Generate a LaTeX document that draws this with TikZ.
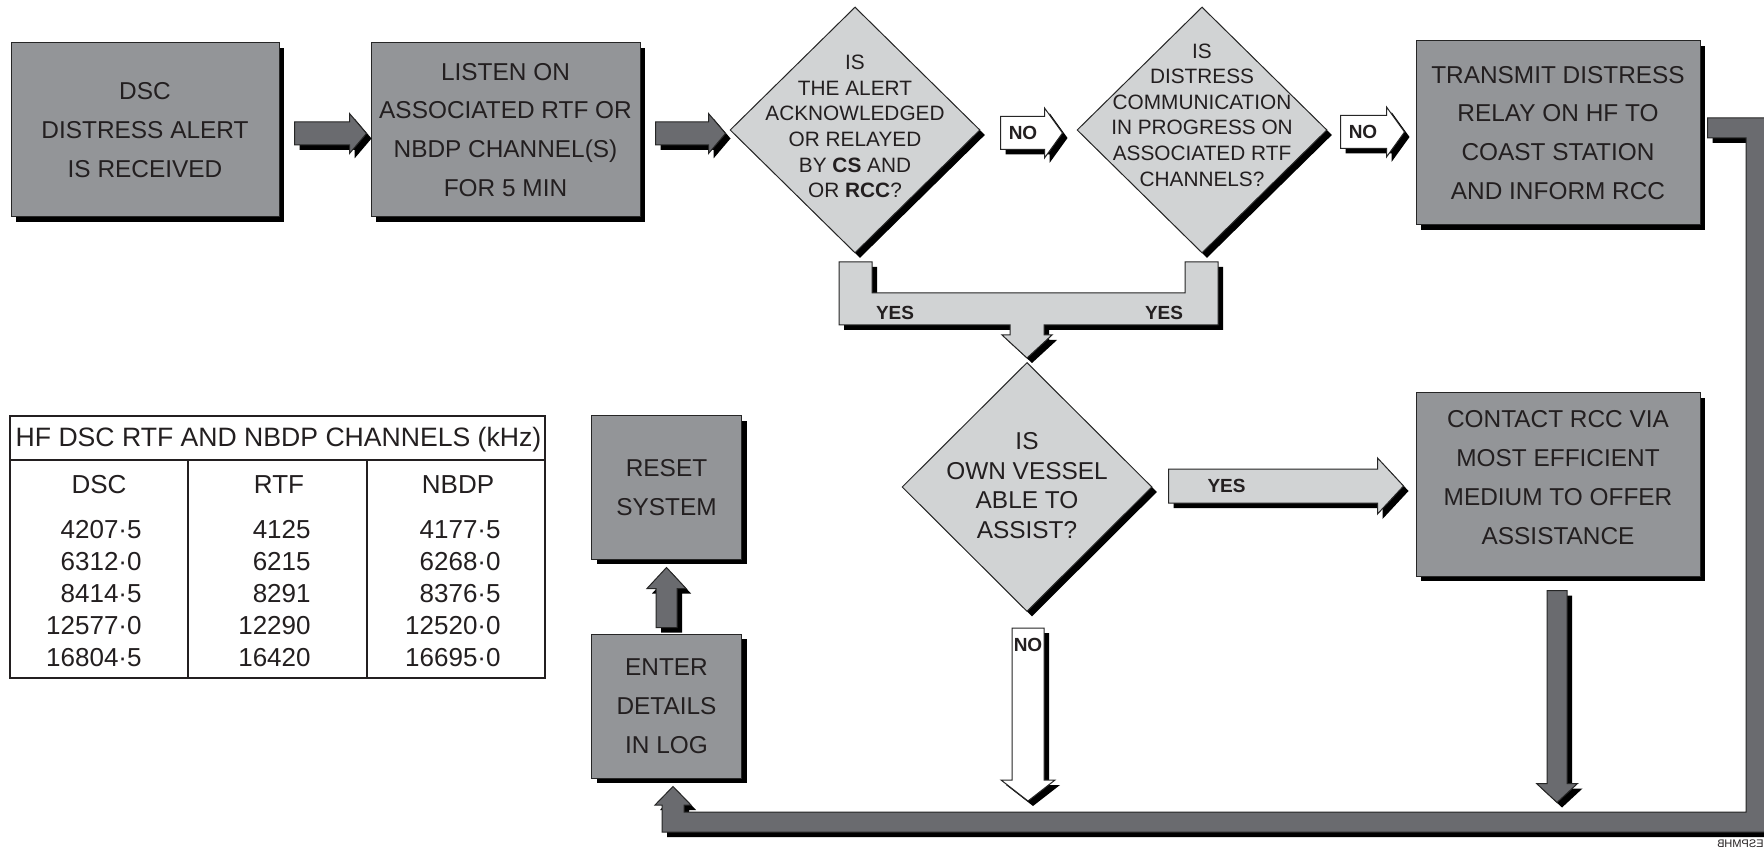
\documentclass[tikz,border=0pt]{standalone}
\usepackage{fontspec}
\setmainfont{Liberation Sans}
\usepackage{graphicx}
\usetikzlibrary{positioning,shapes.geometric,shadows,calc}

\definecolor{boxgray}{RGB}{147,149,152}
\definecolor{arrowgray}{RGB}{106,107,111}
\definecolor{diagray}{RGB}{209,211,212}
\definecolor{ink}{RGB}{35,31,32}

\tikzset{
  shade5/.style={drop shadow={shadow xshift=2.5pt, shadow yshift=-2.5pt, fill=black, opacity=1}},
  outline/.style={draw=black!85, line width=0.5pt},
  box/.style={rectangle, outline, fill=boxgray, shade5, text=ink, align=center, inner sep=0pt,
    font=\fontsize{12.2}{19.4}\selectfont},
  diam/.style={diamond, outline, fill=diagray, shade5, inner sep=0pt},
  dtext/.style={align=center, inner sep=0pt, text=ink, font=\fontsize{10.4}{12.8}\selectfont},
  lbl/.style={inner sep=0pt, text=ink, font=\fontsize{9.5}{11}\selectfont\bfseries},
  darkarrow/.style={outline, fill=arrowgray, shade5},
  whitearrow/.style={outline, fill=white, shade5},
  lightarrow/.style={outline, fill=diagray, shade5},
  tab/.style={inner sep=0pt, text=ink, font=\fontsize{13}{15}\selectfont},
}

% block arrows: style, tail, tip, shaft half, head half, head length
\newcommand\rblock[6]{\fill[#1] ($(#2)+(0,-#4)$) -- ($(#3)+(-#6,-#4)$) -- ($(#3)+(-#6,-#5)$) -- (#3)
  -- ($(#3)+(-#6,#5)$) -- ($(#3)+(-#6,#4)$) -- ($(#2)+(0,#4)$) -- cycle;}
\newcommand\dblock[6]{\fill[#1] ($(#2)+(-#4,0)$) -- ($(#3)+(-#4,-#6)$) -- ($(#3)+(-#5,-#6)$) -- (#3)
  -- ($(#3)+(#5,-#6)$) -- ($(#3)+(#4,-#6)$) -- ($(#2)+(#4,0)$) -- cycle;}
\newcommand\ublock[6]{\fill[#1] ($(#2)+(-#4,0)$) -- ($(#3)+(-#4,#6)$) -- ($(#3)+(-#5,#6)$) -- (#3)
  -- ($(#3)+(#5,#6)$) -- ($(#3)+(#4,#6)$) -- ($(#2)+(#4,0)$) -- cycle;}

\begin{document}
\begin{tikzpicture}[x=0.5pt, y=-0.5pt]
  \useasboundingbox[fill=white] (0,0) rectangle (1764,849);

  % top row
  \node[box, minimum width=134pt, minimum height=87pt] (b1) at (145,130) {DSC\\DISTRESS ALERT\\IS RECEIVED};
  \node[box, minimum width=134.5pt, minimum height=87pt, right=45.5pt of b1] (b2) {LISTEN ON\\ASSOCIATED RTF OR\\NBDP CHANNEL(S)\\FOR 5 MIN};
  \node[diam, minimum width=125pt, minimum height=123pt] (d1) at (855,130) {};
  \node[dtext] (q1) at (855,126.5) {IS\\THE ALERT\\ACKNOWLEDGED\\OR RELAYED\\BY \textbf{CS} AND\\OR \textbf{RCC}?};
  \node[diam, minimum width=125pt, minimum height=123pt] (d2) at (1202,130) {};
  \node[dtext] (q2) at (1202,115) {IS\\DISTRESS\\COMMUNICATION\\IN PROGRESS ON\\ASSOCIATED RTF\\CHANNELS?};
  \node[box, minimum width=142pt, minimum height=92pt] (b3) at (1558,133) {TRANSMIT DISTRESS\\RELAY ON HF TO\\COAST STATION\\AND INFORM RCC};

  % lower part
  \node[diam, minimum width=125pt, minimum height=124.5pt] (d3) at (1027,487) {};
  \node[dtext, font=\fontsize{12.2}{14.75}\selectfont] (q3) at (1027,485.5) {IS\\OWN VESSEL\\ABLE TO\\ASSIST?};
  \node[box, minimum width=142pt, minimum height=91.5pt, text depth=7pt] (b4) at (1558,484.5) {CONTACT RCC VIA\\MOST EFFICIENT\\MEDIUM TO OFFER\\ASSISTANCE};
  \node[box, minimum width=75pt, minimum height=71.5pt] (reset) at (666.5,487.5) {RESET\\SYSTEM};
  \node[box, minimum width=75pt, minimum height=72pt] (enter) at (666.5,706) {ENTER\\DETAILS\\IN LOG};

  % arrows along the top
  \coordinate (a1t) at ($(b1.east)+(15,3.5)$);
  \coordinate (a1h) at ($(b2.west)+(-4,3.5)$);
  \rblock{darkarrow}{a1t}{a1h}{11.5}{20}{17}
  \coordinate (a2t) at ($(b2.east)+(15,3.5)$);
  \coordinate (a2h) at ($(d1.west)+(-4,3.5)$);
  \rblock{darkarrow}{a2t}{a2h}{11.5}{20}{17}
  \coordinate (n1t) at ($(d1.east)+(20,3)$);
  \coordinate (n1h) at ($(d2.west)+(-14,3)$);
  \rblock{whitearrow}{n1t}{n1h}{16.5}{25}{18}
  \node[lbl] (no1) at ($(n1t)+(22.5,0)$) {NO};
  \coordinate (n2t) at ($(d2.east)+(13,2)$);
  \coordinate (n2h) at ($(b3.west)+(-11,-1)$);
  \rblock{whitearrow}{n2t}{n2h}{16.5}{25}{18}
  \node[lbl] (no2) at ($(n2t)+(22.5,0)$) {NO};

  % both YES branches join
  \fill[lightarrow] (839,262) -- (872,262) -- (872,293) -- (1185,293) -- (1185,262) -- (1218,262)
    -- (1218,325) -- (1044,325) -- (1044,335) -- (1052,335) -- (1027,358) -- (1002,335)
    -- (1010,335) -- (1010,325) -- (839,325) -- cycle;
  \node[lbl] (yes1) at (895,313) {YES};
  \node[lbl] (yes2) at (1164,313) {YES};

  \coordinate (y3t) at ($(d3.east)+(16,-1)$);
  \coordinate (y3h) at ($(b4.west)+(-12,1.5)$);
  \rblock{lightarrow}{y3t}{y3h}{17}{28}{26}
  \node[lbl] (yes3) at ($(y3t)+(58,0)$) {YES};

  \coordinate (n3t) at ($(d3.south)+(1,16)$);
  \coordinate (n3h) at ($(d3.south)+(1,189)$);
  \dblock{whitearrow}{n3t}{n3h}{16}{27}{21}
  \node[lbl] (no3) at ($(n3t)+(0,17)$) {NO};

  \coordinate (c1t) at ($(b4.south)+(-1,14)$);
  \coordinate (c1h) at ($(b4.south)+(-1,226)$);
  \dblock{darkarrow}{c1t}{c1h}{10}{20.5}{19}

  \coordinate (r1t) at ($(enter.north)+(0,-6)$);
  \coordinate (r1h) at ($(reset.south)+(0,8)$);
  \ublock{darkarrow}{r1t}{r1h}{10.5}{19.5}{21}

  % return line round the right side
  \coordinate (busin) at ($(b3.east)+(7,-5)$);
  \coordinate (busout) at ($(enter.south)+(6.5,8)$);
  \fill[darkarrow] ($(busin)+(0,-10)$) -- (1768,118) -- (1768,832) -- (662,832) -- (662,805)
    -- (655,805) -- (busout) -- (691,805) -- (684,805) -- (684,812) -- (1746,812)
    -- (1746,138) -- ($(busin)+(0,10)$) -- cycle;

  % channel table
  \node[draw=ink, line width=0.9pt, minimum width=267.5pt, minimum height=131pt, inner sep=0pt] (tab) at (277.5,547) {};
  \draw[ink, line width=0.9pt] (10,460) -- (545,460) (188,460) -- (188,678) (367,460) -- (367,678);
  \node[tab, font=\fontsize{13.3}{15}\selectfont] (head) at (278.5,440) {HF DSC RTF AND NBDP CHANNELS (kHz)};
  \node[tab] (hdsc) at (99,485) {DSC};
  \node[tab] (hrtf) at (279,485) {RTF};
  \node[tab] (hnbdp) at (458,485) {NBDP};
  \foreach \d/\r/\n [count=\i] in {4207·5/4125/4177·5, 6312·0/6215/6268·0, 8414·5/8291/8376·5,
      12577·0/12290/12520·0, 16804·5/16420/16695·0} {
    \node[tab, anchor=east] (dsc\i) at (142,498+32*\i) {\d};
    \node[tab, anchor=east] (rtf\i) at (311,498+32*\i) {\r};
    \node[tab, anchor=east] (nbdp\i) at (501,498+32*\i) {\n};
  }

  \node[inner sep=0pt, anchor=south east, text=ink, font=\fontsize{5.5}{6}\selectfont] (code) at (1764,848) {\scalebox{-1}[1]{ESPMHB}};
\end{tikzpicture}
\end{document}
